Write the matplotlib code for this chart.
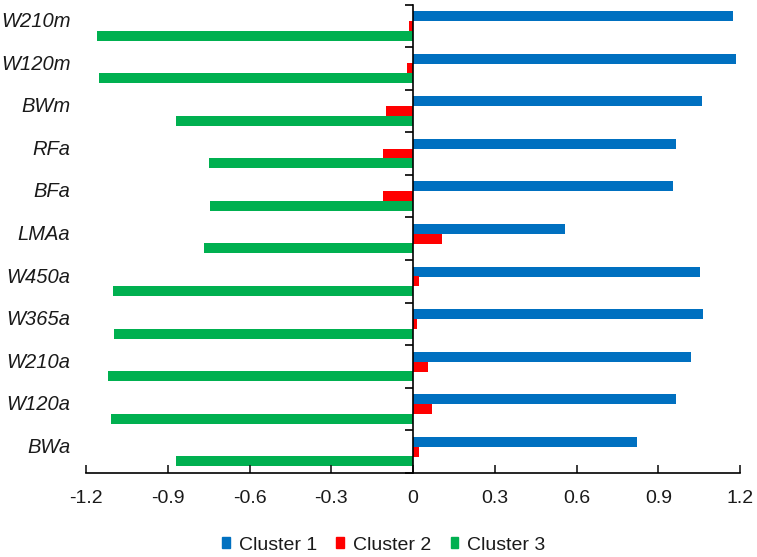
import numpy as np
import matplotlib.pyplot as plt
from matplotlib.patches import Patch
import matplotlib.transforms as mtransforms

# categories from bottom to top
categories = ["BWa", "W120a", "W210a", "W365a", "W450a", "LMAa",
              "BFa", "RFa", "BWm", "W120m", "W210m"]
cluster1 = [0.823, 0.964, 1.019, 1.063, 1.054, 0.558,
            0.955, 0.964, 1.059, 1.185, 1.175]
cluster2 = [0.021, 0.071, 0.054, 0.016, 0.021, 0.108,
            -0.109, -0.109, -0.100, -0.023, -0.013]
cluster3 = [-0.871, -1.109, -1.118, -1.096, -1.100, -0.767,
            -0.745, -0.750, -0.871, -1.151, -1.161]
series_names = ["Cluster 1", "Cluster 2", "Cluster 3"]
colors = ["#0070C0", "#FF0000", "#00B050"]
xticks = [-1.2, -0.9, -0.6, -0.3, 0, 0.3, 0.6, 0.9, 1.2]

plt.rcParams["font.family"] = ["Liberation Sans", "DejaVu Sans"]

fig = plt.figure(figsize=(7.57, 5.57), dpi=100)
ax = fig.add_axes([0.1136, 0.1508, 0.864, 0.8410])

y = np.arange(len(categories))
h = 0.235
off = 0.228
ax.barh(y + off, cluster1, height=h, color=colors[0])
ax.barh(y, cluster2, height=h, color=colors[1])
ax.barh(y - off, cluster3, height=h, color=colors[2])

ax.set_xlim(-1.2, 1.2)
ax.set_ylim(-0.5, len(categories) - 0.5)

ax.spines["top"].set_visible(False)
ax.spines["right"].set_visible(False)
ax.spines["left"].set_position(("data", 0))
ax.spines["left"].set_linewidth(1.2)
ax.spines["bottom"].set_linewidth(1.2)

ax.set_yticks(np.arange(len(categories) + 1) - 0.5)
ax.set_yticklabels([])
ax.tick_params(axis="y", direction="out", length=6, width=1.2)

ax.set_xticks(xticks)
ax.set_xticklabels(["0" if t == 0 else "%g" % t for t in xticks])
ax.tick_params(axis="x", direction="in", length=6, width=1.2, pad=12,
               labelsize=14, colors="#1a1a1a")

trans = mtransforms.blended_transform_factory(ax.transAxes, ax.transData)
for yi, name in zip(y, categories):
    ax.text(-0.024, yi + 0.1, name, transform=trans, ha="right", va="center",
            fontsize=14.5, style="italic", color="#1a1a1a")

handles = [Patch(color=c) for c in colors]
fig.legend(handles, series_names, loc="center",
           bbox_to_anchor=(0.507, 0.021), ncol=3, frameon=False,
           fontsize=14, handlelength=0.4, handleheight=0.5,
           handletextpad=0.45, columnspacing=1.0, labelcolor="#1a1a1a")

fig.savefig("out.png", dpi=100)
